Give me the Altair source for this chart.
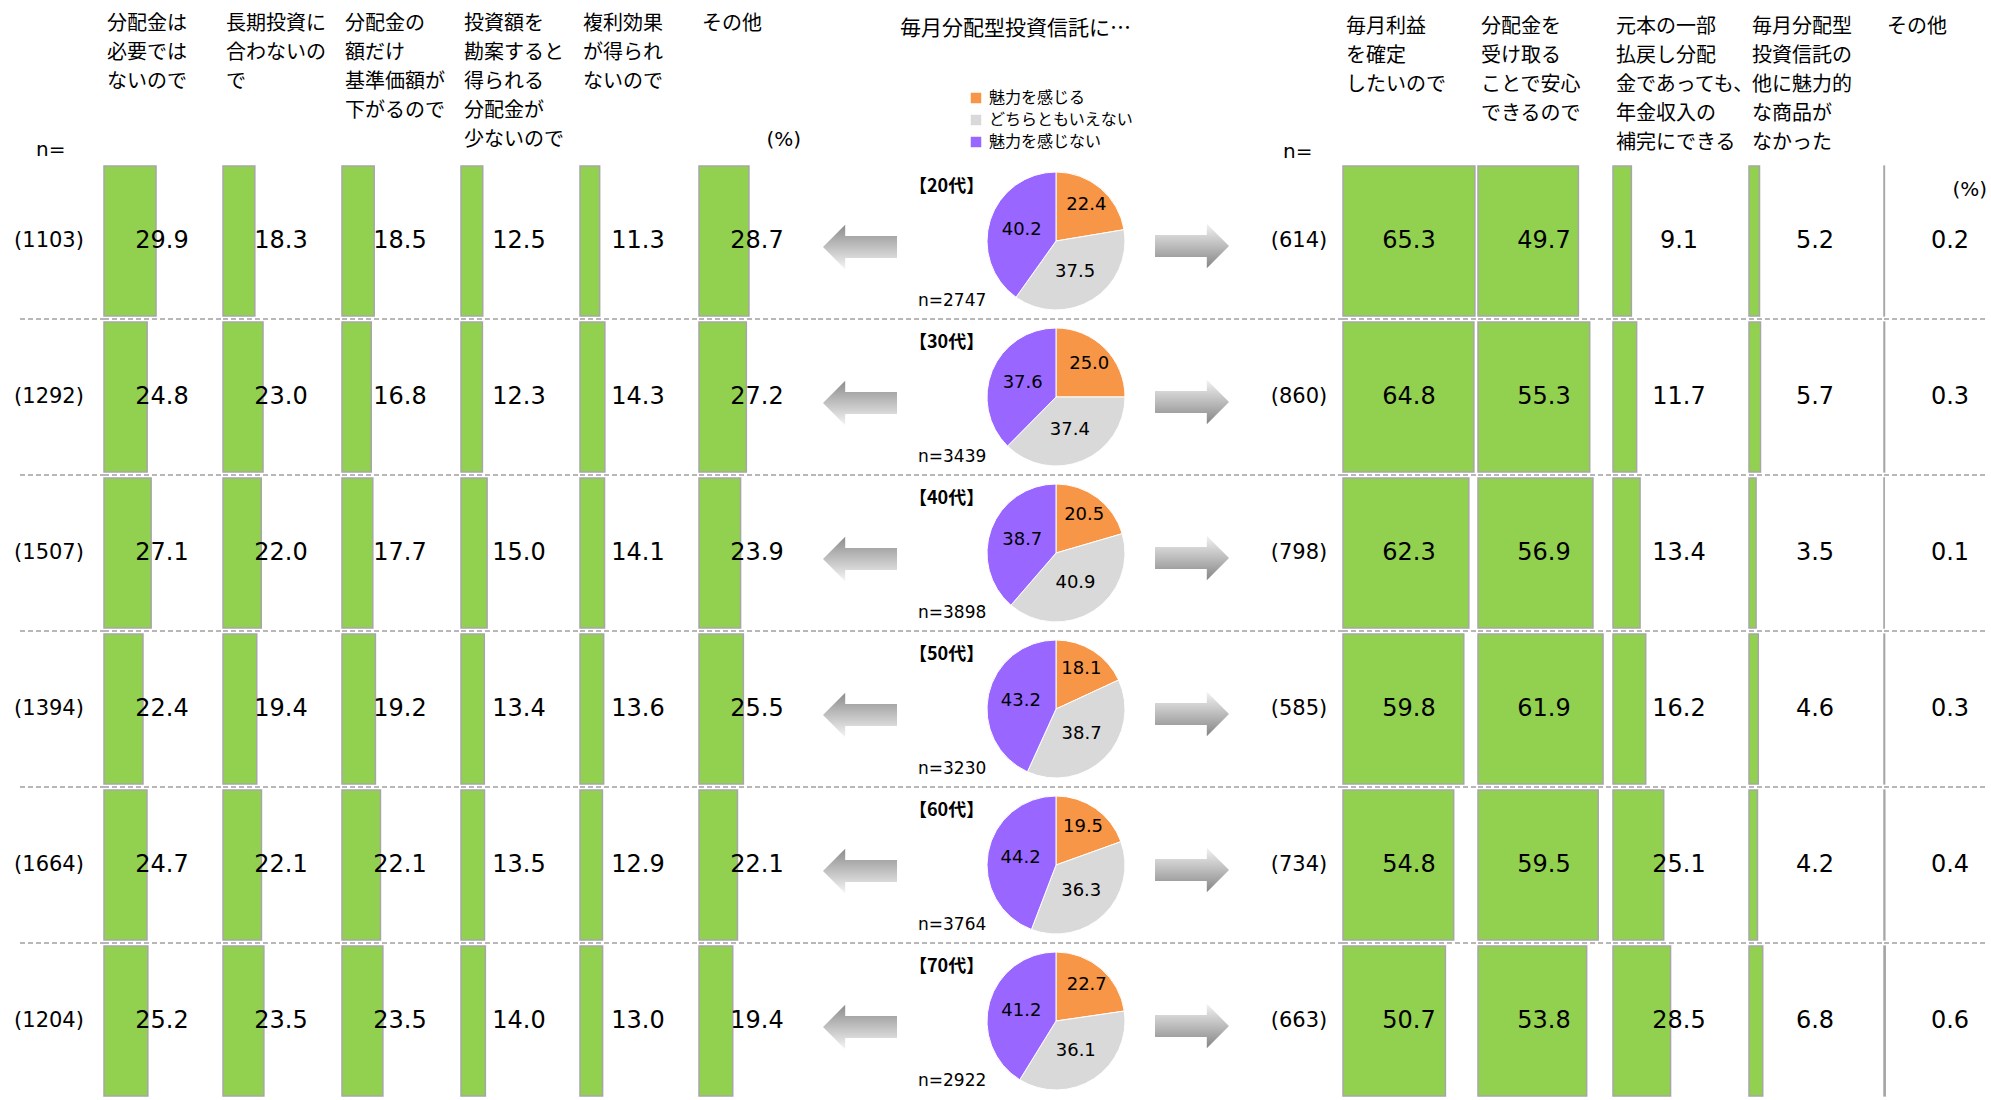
import altair as alt
import pandas as pd

# ---------------- data ----------------
AGES = ["20代", "30代", "40代", "50代", "60代", "70代"]
AGE_LABELS = ["【20代】", "【30代】", "【40代】", "【50代】", "【60代】", "【70代】"]

TITLE = "毎月分配型投資信託に…"
PIE_CATS = ["魅力を感じる", "どちらともいえない", "魅力を感じない"]
PIE_COLORS = ["#f79646", "#d9d9d9", "#9966ff"]
PIE_N = [2747, 3439, 3898, 3230, 3764, 2922]
PIE_VALUES = [
    [22.4, 37.5, 40.2],
    [25.0, 37.4, 37.6],
    [20.5, 40.9, 38.7],
    [18.1, 38.7, 43.2],
    [19.5, 36.3, 44.2],
    [22.7, 36.1, 41.2],
]

LEFT_N = [1103, 1292, 1507, 1394, 1664, 1204]
LEFT_HEADERS = [
    "分配金は\n必要では\nないので",
    "長期投資に\n合わないの\nで",
    "分配金の\n額だけ\n基準価額が\n下がるので",
    "投資額を\n勘案すると\n得られる\n分配金が\n少ないので",
    "複利効果\nが得られ\nないので",
    "その他",
]
LEFT_VALUES = [
    [29.9, 18.3, 18.5, 12.5, 11.3, 28.7],
    [24.8, 23.0, 16.8, 12.3, 14.3, 27.2],
    [27.1, 22.0, 17.7, 15.0, 14.1, 23.9],
    [22.4, 19.4, 19.2, 13.4, 13.6, 25.5],
    [24.7, 22.1, 22.1, 13.5, 12.9, 22.1],
    [25.2, 23.5, 23.5, 14.0, 13.0, 19.4],
]

RIGHT_N = [614, 860, 798, 585, 734, 663]
RIGHT_HEADERS = [
    "毎月利益\nを確定\nしたいので",
    "分配金を\n受け取る\nことで安心\nできるので",
    "元本の一部\n払戻し分配\n金であっても、\n年金収入の\n補完にできる",
    "毎月分配型\n投資信託の\n他に魅力的\nな商品が\nなかった",
    "その他",
]
RIGHT_VALUES = [
    [65.3, 49.7, 9.1, 5.2, 0.2],
    [64.8, 55.3, 11.7, 5.7, 0.3],
    [62.3, 56.9, 13.4, 3.5, 0.1],
    [59.8, 61.9, 16.2, 4.6, 0.3],
    [54.8, 59.5, 25.1, 4.2, 0.4],
    [50.7, 53.8, 28.5, 6.8, 0.6],
]

# ---------------- styles / layout ----------------
JP = "Noto Sans CJK JP"
NUM = "DejaVu Sans"
GREEN = "#92d050"
EDGE = "#a6a6a6"
DASH = "#a0a0a0"

PLOT_H = 936
TOP = 163
LEFT_LABEL_W = 104
LEFT_COL_W = 119
MID_W = 432
RIGHT_LABEL_W = 93
RIGHT_COL_W = [135, 135, 136, 135, 107]
LEFT_PPP = 1.74
RIGHT_PPP = 2.02

ages_df = pd.DataFrame({"age": AGES, "label": AGE_LABELS})


def y_row():
    return alt.Y(
        "age:N",
        sort=AGES,
        scale=alt.Scale(domain=AGES, paddingInner=0.04, paddingOuter=0.02),
        axis=None,
    )


def separators(x0, x1):
    return (
        alt.Chart(ages_df)
        .transform_filter(alt.datum.age != AGES[0])
        .mark_rule(color=DASH, strokeDash=[5, 3], strokeWidth=1.5, yOffset=-78)
        .encode(y=y_row(), x=alt.value(x0), x2=alt.value(x1))
    )


def one_text(text, x, y, **mk):
    return (
        alt.Chart(pd.DataFrame({"t": [text]}))
        .mark_text(**mk)
        .encode(text="t:N", x=alt.value(x), y=alt.value(y))
    )


def bar_column(values, width, ppp, header, label_x, header_y, extra=None, sep_end=None):
    df = pd.DataFrame({"age": AGES, "value": values})
    dom = width / ppp
    bars = alt.Chart(df).mark_bar(color=GREEN, stroke=EDGE, strokeWidth=1.5).encode(
        x=alt.X("value:Q", scale=alt.Scale(domain=[0, dom], nice=False, zero=True), axis=None),
        y=y_row(),
    )
    labels = alt.Chart(df).mark_text(
        font=NUM, fontSize=24, align="center", baseline="middle", color="black"
    ).encode(x=alt.value(label_x), y=y_row(), text=alt.Text("value:Q", format=".1f"))
    head = one_text(
        header, 3, header_y, font=JP, fontSize=20, lineHeight=29, lineBreak="\n",
        align="left", baseline="top", color="black",
    )
    layers = [separators(0, sep_end if sep_end is not None else width), bars, labels, head]
    if extra is not None:
        layers.append(extra)
    return alt.layer(*layers).properties(width=width, height=PLOT_H)


def row_label_cell(ns, width, label_x, n_x, n_y, sep_start, anchor=False):
    df = pd.DataFrame({"age": AGES, "n": ns})
    lab = (
        alt.Chart(df)
        .transform_calculate(txt="'(' + datum.n + ')'")
        .mark_text(font=NUM, fontSize=21, align="center", baseline="middle", color="black")
        .encode(x=alt.value(label_x), y=y_row(), text="txt:N")
    )
    nlab = one_text("n=", n_x, n_y, font=NUM, fontSize=20, align="left",
                    baseline="middle", color="black")
    layers = []
    if anchor:
        layers.append(
            alt.Chart(pd.DataFrame({"a": [0]})).mark_rect(color="white").encode(
                x=alt.value(0), x2=alt.value(width), y=alt.value(-TOP), y2=alt.value(PLOT_H)
            )
        )
    layers += [separators(sep_start, width), lab, nlab]
    return alt.layer(*layers).properties(width=width, height=PLOT_H)


# ---------------- left panel ----------------
left_cells = [row_label_cell(LEFT_N, LEFT_LABEL_W, 49, 36, -13, 20, anchor=True)]
for j, h in enumerate(LEFT_HEADERS):
    extra = None
    if j == len(LEFT_HEADERS) - 1:
        extra = one_text("(%)", 102, -23, font=NUM, fontSize=20, align="right",
                         baseline="middle", color="black")
    left_cells.append(
        bar_column([row[j] for row in LEFT_VALUES], LEFT_COL_W, LEFT_PPP, h, 58, -149, extra)
    )

# ---------------- middle panel (pies) ----------------
pie_rows = []
for a, vals, n in zip(AGES, PIE_VALUES, PIE_N):
    for k, (c, v) in enumerate(zip(PIE_CATS, vals)):
        pie_rows.append({"age": a, "cat": c, "order": k, "value": v, "n": n})
pie_df = pd.DataFrame(pie_rows)

pie_base = (
    alt.Chart(pie_df)
    .transform_joinaggregate(total="sum(value)", groupby=["age"])
    .transform_window(cum="sum(value)", groupby=["age"], sort=[alt.SortField("order")])
    .transform_calculate(
        t0="(datum.cum - datum.value) / datum.total",
        t1="datum.cum / datum.total",
        tm="(datum.cum - datum.value / 2) / datum.total",
    )
)
theta_scale = alt.Scale(domain=[0, 1])
PIE_X = 238

arcs = pie_base.mark_arc(radius=69, stroke="white", strokeWidth=1).encode(
    theta=alt.Theta("t0:Q", scale=theta_scale),
    theta2="t1:Q",
    color=alt.Color(
        "cat:N",
        scale=alt.Scale(domain=PIE_CATS, range=PIE_COLORS),
        legend=alt.Legend(
            orient="none", legendX=150, legendY=-73, title=None,
            symbolType="square", symbolSize=110, symbolStrokeWidth=0,
            labelFont=JP, labelFontSize=16, labelColor="black",
            rowPadding=6, labelOffset=5, padding=0,
        ),
    ),
    x=alt.value(PIE_X),
    y=y_row(),
)
pie_lab_orange = (
    pie_base.transform_filter(alt.datum.order == 0)
    .mark_text(radius=47, font=NUM, fontSize=18, align="center", baseline="middle", color="black")
    .encode(theta=alt.Theta("tm:Q", scale=theta_scale), x=alt.value(PIE_X), y=y_row(),
            text=alt.Text("value:Q", format=".1f"))
)
pie_lab_other = (
    pie_base.transform_filter(alt.datum.order > 0)
    .mark_text(radius=36, font=NUM, fontSize=18, align="center", baseline="middle", color="black")
    .encode(theta=alt.Theta("tm:Q", scale=theta_scale), x=alt.value(PIE_X), y=y_row(),
            text=alt.Text("value:Q", format=".1f"))
)
age_lab = alt.Chart(ages_df).mark_text(
    font=JP, fontSize=18, fontWeight="bold", align="left", baseline="middle", dy=-54, color="black"
).encode(x=alt.value(91), y=y_row(), text="label:N")

n_df = pd.DataFrame({"age": AGES, "n": PIE_N})
n_lab = (
    alt.Chart(n_df)
    .transform_calculate(txt="'n=' + datum.n")
    .mark_text(font=NUM, fontSize=17, align="left", baseline="middle", dy=60, color="black")
    .encode(x=alt.value(100), y=y_row(), text="txt:N")
)

LEFT_ARROW = "M -1 0 L -0.4 -0.6 L -0.4 -0.3 L 1 -0.3 L 1 0.3 L -0.4 0.3 L -0.4 0.6 Z"
RIGHT_ARROW = "M 1 0 L 0.4 -0.6 L 0.4 -0.3 L -1 -0.3 L -1 0.3 L 0.4 0.3 L 0.4 0.6 Z"
grad_left = alt.LinearGradient(
    gradient="linear",
    stops=[alt.GradientStop(offset=0, color="#8c8c8c"), alt.GradientStop(offset=1, color="#f4f4f4")],
    x1=0, x2=0, y1=0, y2=1,
)
grad_right = alt.LinearGradient(
    gradient="linear",
    stops=[alt.GradientStop(offset=0, color="#f2f2f2"), alt.GradientStop(offset=1, color="#858585")],
    x1=0, x2=0, y1=0, y2=1,
)
arrow_l = alt.Chart(ages_df).mark_point(
    shape=LEFT_ARROW, size=5476, filled=True, fill=grad_left, strokeWidth=0, opacity=1, yOffset=6
).encode(x=alt.value(42), y=y_row())
arrow_r = alt.Chart(ages_df).mark_point(
    shape=RIGHT_ARROW, size=5476, filled=True, fill=grad_right, strokeWidth=0, opacity=1, yOffset=5
).encode(x=alt.value(374), y=y_row())

title_txt = one_text(TITLE, 82, -134, font=JP, fontSize=21, align="left",
                     baseline="middle", color="black")

middle = alt.layer(
    separators(0, MID_W), arrow_l, arrow_r, arcs, pie_lab_orange, pie_lab_other,
    age_lab, n_lab, title_txt,
).properties(width=MID_W, height=PLOT_H)

# ---------------- right panel ----------------
right_cells = [row_label_cell(RIGHT_N, RIGHT_LABEL_W, 49, 33, -11, 0)]
for j, h in enumerate(RIGHT_HEADERS):
    extra = None
    sep_end = None
    if j == len(RIGHT_HEADERS) - 1:
        extra = one_text("(%)", 103, 27, font=NUM, fontSize=20, align="right",
                         baseline="middle", color="black")
        sep_end = 101
    right_cells.append(
        bar_column([row[j] for row in RIGHT_VALUES], RIGHT_COL_W[j], RIGHT_PPP, h, 66, -146,
                   extra, sep_end)
    )

chart = (
    alt.hconcat(*left_cells, middle, *right_cells, spacing=0, bounds="flush")
    .resolve_scale(color="independent")
    .properties(padding=0, background="white")
    .configure_view(stroke=None)
)

chart.save("out.html", embed_options={"renderer": "svg", "actions": False})
